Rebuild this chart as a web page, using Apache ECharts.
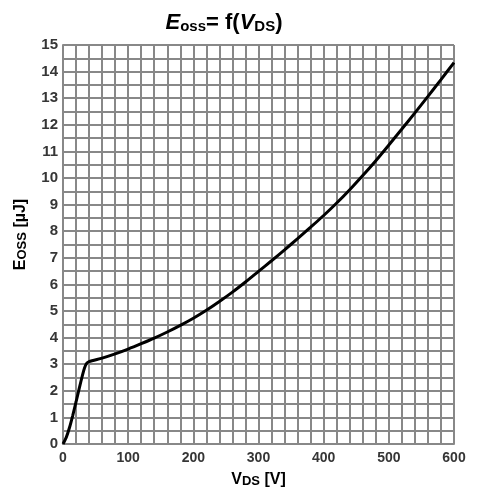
<!DOCTYPE html>
<html>
<head>
<meta charset="utf-8">
<script src="https://cdn.jsdelivr.net/npm/echarts@6/dist/echarts.min.js"></script>
<style>
  html, body { margin: 0; padding: 0; background: #fff; }
  #chart { width: 477px; height: 495px; }
</style>
</head>
<body>
<div id="chart"></div>
<script>
// V_DS [V] and E_oss [µJ]
var vds = [0, 5, 10, 15, 20, 25, 30, 33, 36, 40, 60, 80, 100, 120, 140, 160, 180, 200, 220, 240, 260, 280, 300,
  320, 340, 360, 380, 400, 420, 440, 460, 480, 500, 520, 540, 560, 580, 600]
var eoss = [0, 0.25, 0.62, 1.08, 1.58, 2.1, 2.6, 2.86, 3.02, 3.1, 3.23, 3.39, 3.57, 3.77, 3.98, 4.21, 4.46, 4.73, 5.03, 5.36, 5.71, 6.09, 6.49,
  6.89, 7.3, 7.72, 8.15, 8.59, 9.06, 9.56, 10.09, 10.65, 11.24, 11.84, 12.45, 13.07, 13.7, 14.34]
var xTicks = [0, 100, 200, 300, 400, 500, 600]
var yTicks = [0, 1, 2, 3, 4, 5, 6, 7, 8, 9, 10, 11, 12, 13, 14, 15]

var gridColor = '#888888'
var labelColor = '#363636'
var font = '"Liberation Sans", Arial, sans-serif'

var chart = echarts.init(document.getElementById('chart'), null, { renderer: 'canvas' })

chart.setOption({
  animation: false,
  title: {
    text: '{e|E}{sub|oss}{n|= f(}{e|V}{sub|DS}{n|)}',
    left: 219,
    top: 3,
    textAlign: 'center',
    textStyle: {
      rich: {
        e: { fontFamily: font, fontSize: 22, fontWeight: 'bold', fontStyle: 'italic', color: '#000', verticalAlign: 'bottom', lineHeight: 26 },
        sub: { fontFamily: font, fontSize: 15, fontWeight: 'bold', color: '#000', verticalAlign: 'bottom', lineHeight: 21 },
        n: { fontFamily: font, fontSize: 22, fontWeight: 'bold', color: '#000', verticalAlign: 'bottom', lineHeight: 26 }
      }
    }
  },
  grid: { left: 63, right: 23, top: 45, bottom: 51 },
  xAxis: {
    type: 'value',
    min: 0,
    max: 600,
    interval: 20,
    name: '{b|V}{s|DS}{b| [V]}',
    nameLocation: 'middle',
    nameGap: 28,
    nameTextStyle: {
      rich: {
        b: { fontFamily: font, fontSize: 16, fontWeight: 'bold', color: '#000' },
        s: { fontFamily: font, fontSize: 13, fontWeight: 'bold', color: '#000', verticalAlign: 'bottom' }
      }
    },
    axisLine: { show: true, lineStyle: { color: gridColor, width: 2 } },
    axisTick: { show: false },
    axisLabel: {
      margin: 7,
      fontFamily: font,
      fontSize: 14,
      fontWeight: 'bold',
      color: labelColor,
      formatter: function (v) { return xTicks.indexOf(v) >= 0 ? String(v) : '' }
    },
    splitLine: { show: true, lineStyle: { color: gridColor, width: 2 } }
  },
  yAxis: {
    type: 'value',
    min: 0,
    max: 15,
    interval: 0.5,
    name: '{b|E}{s|OSS}{b| [µJ]}',
    nameLocation: 'middle',
    nameRotate: 90,
    nameGap: 34,
    nameTextStyle: {
      padding: [0, 0, 0, 20],
      rich: {
        b: { fontFamily: font, fontSize: 16, fontWeight: 'bold', color: '#000' },
        s: { fontFamily: font, fontSize: 13, fontWeight: 'bold', color: '#000', verticalAlign: 'bottom' }
      }
    },
    axisLine: { show: true, lineStyle: { color: gridColor, width: 2 } },
    axisTick: { show: false },
    axisLabel: {
      margin: 5,
      fontFamily: font,
      fontSize: 15,
      fontWeight: 'bold',
      color: labelColor,
      formatter: function (v) { return yTicks.indexOf(v) >= 0 ? String(v) : '' }
    },
    splitLine: { show: true, lineStyle: { color: gridColor, width: 2 } }
  },
  series: [{
    type: 'line',
    data: vds.map(function (v, i) { return [v, eoss[i]] }),
    showSymbol: false,
    smooth: 0.25,
    lineStyle: { color: '#000', width: 3 },
    z: 5
  }]
})
</script>
</body>
</html>
